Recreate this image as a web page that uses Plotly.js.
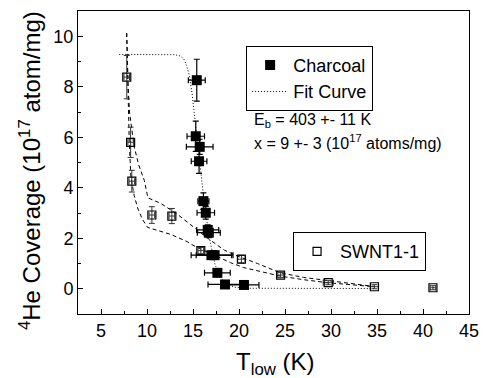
<!DOCTYPE html>
<html>
<head>
<meta charset="utf-8">
<script src="https://cdn.plot.ly/plotly-3.0.1.min.js"></script>
<style>html,body{margin:0;padding:0;background:#fff;}#chart{width:485px;height:378px;}</style>
</head>
<body>
<div id="chart"></div>
<script>
// Charcoal data (T_low in K, coverage in 1e17 atom/mg)
const charcoalT    = [15.41, 15.30, 15.73, 15.66, 16.13, 16.39, 16.60, 16.72, 17.00, 17.35, 17.65, 18.48, 20.54];
const charcoalY    = [8.26, 6.04, 5.62, 5.05, 3.47, 3.01, 2.33, 2.22, 1.33, 1.33, 0.63, 0.17, 0.15];
const charcoalTerr = [0.92, 0.95, 1.45, 0.85, 0.60, 0.95, 1.20, 1.25, 2.20, 2.00, 1.40, 1.85, 1.63];
const charcoalYerr = [0.83, 0.60, 0.30, 0.48, 0.33, 0.25, 0.20, 0.20, 0.10, 0.10, 0.10, 0.08, 0.08];

// SWNT1-1 data
const swntT    = [7.80, 8.22, 8.35, 10.53, 12.70, 15.85, 20.26, 24.52, 29.70, 34.72, 41.08];
const swntY    = [8.38, 5.80, 4.26, 2.92, 2.88, 1.51, 1.17, 0.54, 0.24, 0.08, 0.04];
const swntTerr = [0.30, 0.30, 0.30, 0.30, 0.30, 0.30, 0.40, 0.30, 0.55, 0.45, 0.30];
const swntYerr = [0.86, 0.60, 0.43, 0.33, 0.30, 0.12, 0.15, 0.10, 0.08, 0.08, 0.08];

// Fit curve (dotted)
const fitT = [6.98, 9.0, 11.0, 13.0, 13.6, 14.0, 14.3, 14.6, 14.9, 15.1, 15.29, 15.5, 15.75, 16.0, 16.2, 16.5, 16.9, 17.4, 18.0, 18.6, 19.5, 21.0, 25.0, 34.7];
const fitY = [9.28, 9.28, 9.28, 9.27, 9.22, 9.10, 8.85, 8.45, 7.73, 7.07, 6.41, 5.60, 4.80, 4.05, 3.50, 2.70, 1.80, 0.95, 0.45, 0.20, 0.06, 0.02, 0.01, 0.01];

// SWNT envelope curves (dashed)
const upperT = [7.79, 7.85, 7.95, 8.10, 8.35, 8.61, 9.10, 9.70, 10.10, 11.50, 13.30, 14.76, 16.60, 18.40, 19.80, 22.00, 24.50, 27.00, 29.60, 34.70];
const upperY = [10.13, 9.00, 8.00, 7.00, 6.20, 5.62, 4.90, 4.30, 3.60, 3.38, 2.95, 2.52, 2.00, 1.53, 1.30, 1.00, 0.63, 0.45, 0.32, 0.09];
const lowerT = [7.79, 7.85, 7.93, 8.00, 8.07, 8.25, 8.60, 8.98, 9.50, 10.06, 11.15, 12.60, 14.40, 15.12, 16.00, 18.00, 19.10, 20.50, 22.40, 24.50, 27.00, 29.60, 34.70];
const lowerY = [10.13, 9.00, 8.00, 7.00, 5.80, 4.43, 3.70, 3.20, 2.75, 2.43, 2.32, 2.15, 1.86, 1.70, 1.55, 1.20, 1.03, 0.84, 0.67, 0.50, 0.36, 0.24, 0.08];

// Text
const xTitle = 'T<sub>low</sub> (K)';
const yTitle = '<sup>4</sup>He Coverage (10<sup>17</sup> atom/mg)';
const noteEb = 'E<sub>b</sub> = 403 +- 11 K';
const noteX  = 'x = 9 +- 3 (10<sup>17</sup> atoms/mg)';

const FONT = 'Liberation Sans, Arial, Helvetica, sans-serif';

const traces = [
  {x: upperT, y: upperY, mode: 'lines', line: {color: '#000', width: 1, dash: '4px,3px'}, showlegend: false, hoverinfo: 'skip'},
  {x: lowerT, y: lowerY, mode: 'lines', line: {color: '#000', width: 1, dash: '4px,3px'}, showlegend: false, hoverinfo: 'skip'},
  {x: fitT, y: fitY, mode: 'lines', name: 'Fit Curve', legend: 'legend', legendrank: 2,
   line: {color: '#000', width: 1, dash: '1px,2px'}},
  {x: swntT, y: swntY, mode: 'markers', name: 'SWNT1-1', legend: 'legend2',
   marker: {symbol: 'square-open', size: 8, color: '#000', line: {width: 1.2, color: '#000'}},
   error_y: {type: 'data', array: swntYerr, visible: true, color: '#333', thickness: 1, width: 3},
   error_x: {type: 'data', array: swntTerr, visible: true, color: '#333', thickness: 1, width: 3}},
  {x: charcoalT, y: charcoalY, mode: 'markers', name: 'Charcoal', legend: 'legend', legendrank: 1,
   marker: {symbol: 'square', size: 10, color: '#000'},
   error_y: {type: 'data', array: charcoalYerr, visible: true, color: '#000', thickness: 1.2, width: 3},
   error_x: {type: 'data', array: charcoalTerr, visible: true, color: '#000', thickness: 1.2, width: 3}}
];

const axisCommon = {
  showline: true, linecolor: '#000', linewidth: 1, mirror: true,
  ticks: 'inside', ticklen: 5, tickwidth: 1, tickcolor: '#000',
  showgrid: false, zeroline: false, automargin: false,
  tickfont: {family: FONT, size: 18, color: '#000'}
};

const layout = {
  width: 485, height: 378,
  margin: {l: 78, r: 16, t: 11, b: 64},
  paper_bgcolor: '#fff', plot_bgcolor: '#fff',
  font: {family: FONT, color: '#000'},
  xaxis: Object.assign({}, axisCommon, {
    range: [2.5, 45], dtick: 5, tick0: 0,
    minor: {dtick: 2.5, ticks: 'inside', ticklen: 3, tickcolor: '#000', tickwidth: 1, showgrid: false}
  }),
  yaxis: Object.assign({}, axisCommon, {
    range: [-1, 11], dtick: 2, tick0: 0,
    minor: {dtick: 1, ticks: 'inside', ticklen: 3, tickcolor: '#000', tickwidth: 1, showgrid: false}
  }),
  legend: {x: 0.43, y: 0.885, xanchor: 'left', yanchor: 'top', bordercolor: '#000', borderwidth: 1, itemwidth: 36,
           bgcolor: 'rgba(255,255,255,0)', font: {family: FONT, size: 18, color: '#000'}, tracegroupgap: 0},
  legend2: {x: 0.55, y: 0.27, xanchor: 'left', yanchor: 'top', bordercolor: '#000', borderwidth: 1, itemwidth: 36,
            bgcolor: 'rgba(255,255,255,0)', font: {family: FONT, size: 18, color: '#000'}},
  annotations: [
    {xref: 'paper', yref: 'paper', x: 0.444, y: 0.637, xanchor: 'left', yanchor: 'middle', showarrow: false,
     text: noteEb, font: {family: FONT, size: 16, color: '#000'}},
    {xref: 'paper', yref: 'paper', x: 0.444, y: 0.568, xanchor: 'left', yanchor: 'middle', showarrow: false,
     text: noteX, font: {family: FONT, size: 16, color: '#000'}},
    {xref: 'paper', yref: 'paper', x: 0.506, y: -0.165, xanchor: 'center', yanchor: 'middle', showarrow: false,
     text: xTitle, font: {family: FONT, size: 24, color: '#000'}},
    {xref: 'paper', yref: 'paper', x: -0.121, y: 0.474, xanchor: 'center', yanchor: 'middle', showarrow: false,
     textangle: -90, text: yTitle, font: {family: FONT, size: 24, color: '#000'}}
  ]
};

Plotly.newPlot('chart', traces, layout, {staticPlot: true, displayModeBar: false});
</script>
</body>
</html>
